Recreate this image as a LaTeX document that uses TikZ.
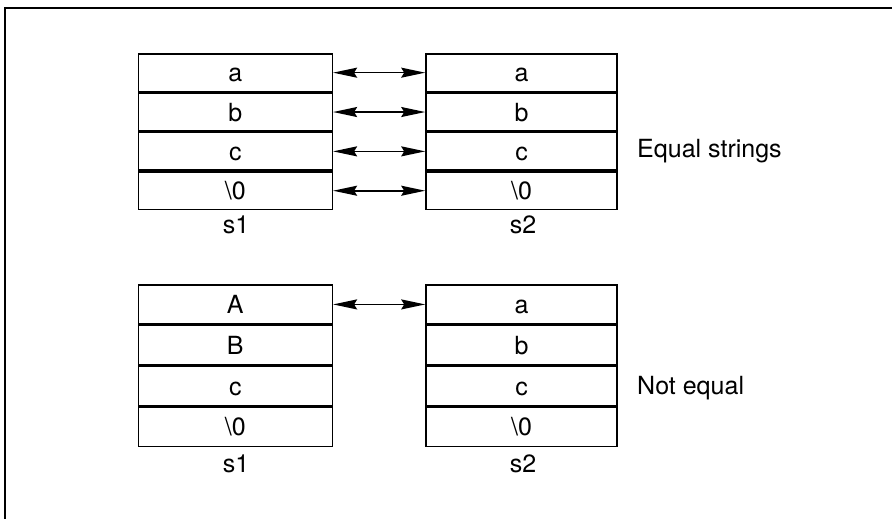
\documentclass[tikz,border=0pt]{standalone}
\usepackage{fontspec}
\setmainfont{TeX Gyre Heros}
\usetikzlibrary{arrows.meta}
\begin{document}
\begin{tikzpicture}[x=1pt,y=-1pt,
  font=\fontsize{25}{30}\selectfont,
  cell/.style={draw,line width=1.6pt,inner sep=0pt,anchor=north,
    text height=18pt,text depth=0pt},
  lcell/.style={cell,minimum width=194pt},
  rcell/.style={cell,minimum width=191pt},
  top/.style={minimum height=37.75pt},
  bot/.style={minimum height=39.25pt},
  link/.style={line width=1.6pt,{Stealth[length=24pt,width=10pt,inset=3pt]}-{Stealth[length=24pt,width=10pt,inset=3pt]}},
  lbl/.style={inner sep=0pt,anchor=base}]
\useasboundingbox (0,0) rectangle (892,519);
% outer frame: top and left edges only
\draw[line width=2pt] (892,8) -- (5,8) -- (5,519);

% equal strings
\node[lcell,top] (ua1) at (235.3,53) {a};
\node[lcell,top] (ub1) at (ua1.south) {b};
\node[lcell,top] (uc1) at (ub1.south) {c};
\node[lcell,top] (uz1) at (uc1.south) {\textbackslash 0};
\node[rcell,top] (ua2) at (521.5,53) {a};
\node[rcell,top] (ub2) at (ua2.south) {b};
\node[rcell,top] (uc2) at (ub2.south) {c};
\node[rcell,top] (uz2) at (uc2.south) {\textbackslash 0};
\draw[link] (ua1) -- (ua2);
\draw[link] (ub1) -- (ub2);
\draw[link] (uc1) -- (uc2);
\draw[link] (uz1) -- (uz2);
\node[lbl] (us1) at (236,233) {s1};
\node[lbl] (us2) at (523,233) {s2};
\node[lbl,anchor=base west] (eq) at (637,157.5) {Equal strings};

% unequal strings
\node[lcell,bot] (la1) at (235.3,284) {A};
\node[lcell,bot] (lb1) at (la1.south) {B};
\node[lcell,bot] (lc1) at (lb1.south) {c};
\node[lcell,bot] (lz1) at (lc1.south) {\textbackslash 0};
\node[rcell,bot] (la2) at (521.5,284) {a};
\node[rcell,bot] (lb2) at (la2.south) {b};
\node[rcell,bot] (lc2) at (lb2.south) {c};
\node[rcell,bot] (lz2) at (lc2.south) {\textbackslash 0};
\draw[link] (la1) -- (la2);
\node[lbl] (ls1) at (236,472) {s1};
\node[lbl] (ls2) at (523,472) {s2};
\node[lbl,anchor=base west] (neq) at (637,394) {Not equal};
\end{tikzpicture}
\end{document}
